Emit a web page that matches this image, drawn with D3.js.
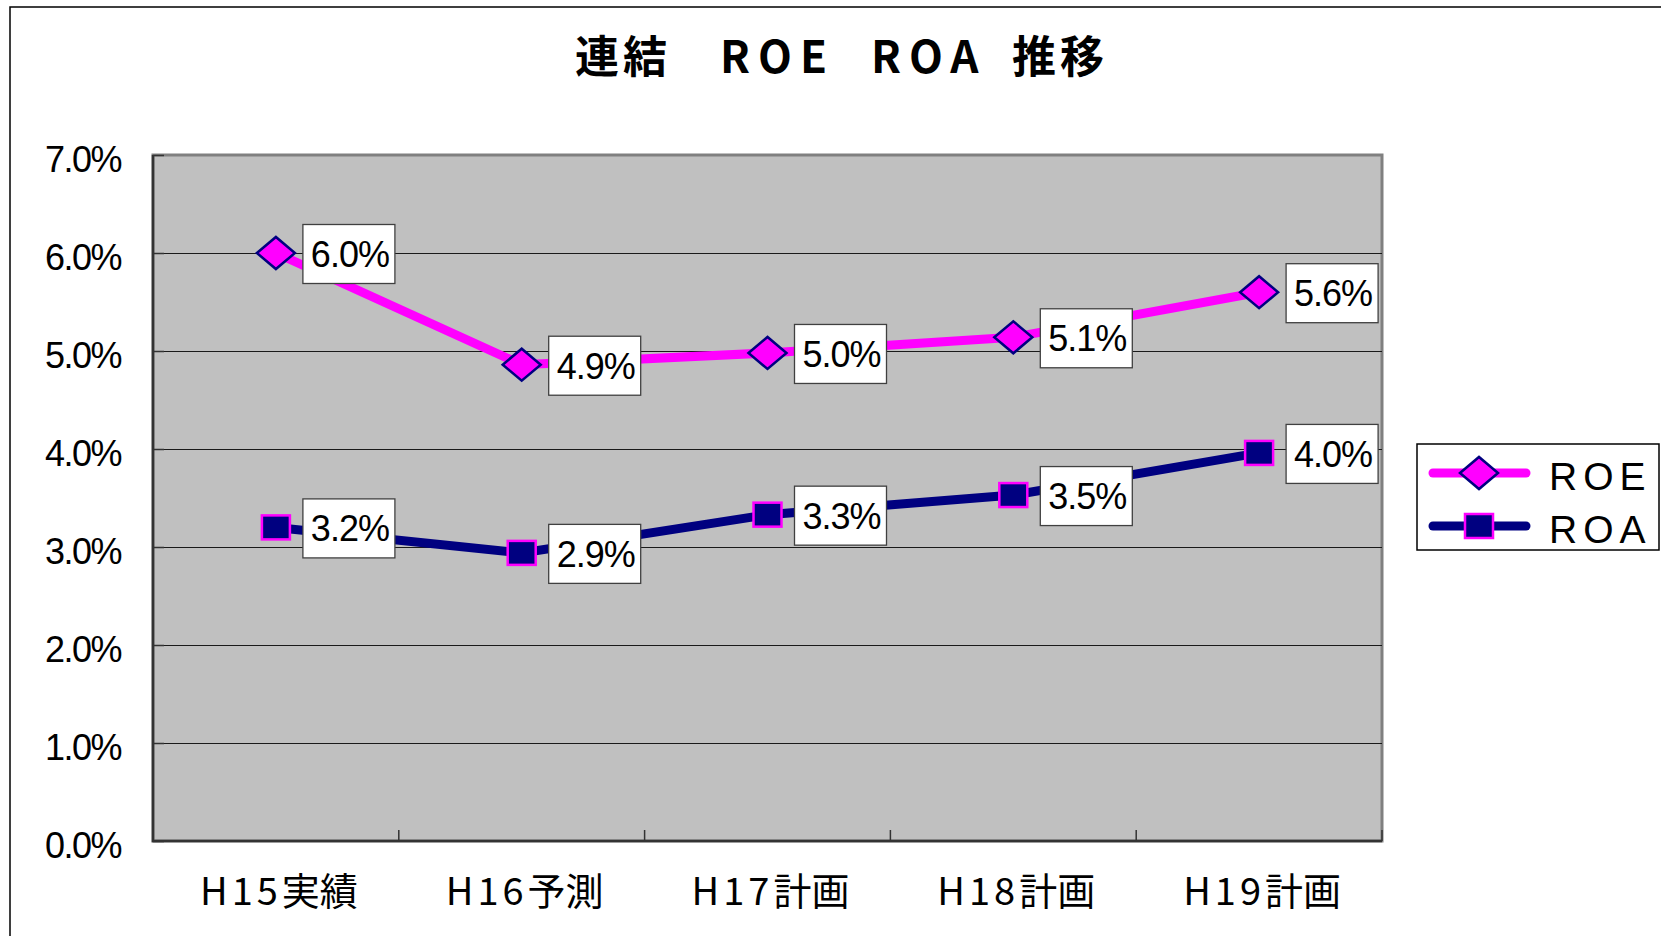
<!DOCTYPE html>
<html>
<head>
<meta charset="utf-8">
<script src="https://cdn.jsdelivr.net/npm/d3@7"></script>
<style>
  body { margin: 0; background: #fff; }
  svg { display: block; }
</style>
</head>
<body>
<div id="chart"></div>
<script>
// data (percent)
var categories = ["H15実績", "H16予測", "H17計画", "H18計画", "H19計画"];
var roeValues = [6.0, 4.86, 4.98, 5.14, 5.6];
var roaValues = [3.2, 2.94, 3.33, 3.53, 3.96];
var seriesNames = ["ROE", "ROA"];
var yTicks = [0, 1, 2, 3, 4, 5, 6, 7];

var W = 1661, H = 936;
var plot = {left: 153, top: 155, right: 1382, bottom: 841};
var plotW = plot.right - plot.left,
    plotH = plot.bottom - plot.top;

var svg = d3.select("#chart").append("svg")
    .attr("width", W)
    .attr("height", H);

// outer chart border (runs off right / bottom)
svg.append("rect")
    .attr("x", 10).attr("y", 7)
    .attr("width", W + 50).attr("height", H + 50)
    .attr("fill", "#fff")
    .attr("stroke", "#000")
    .attr("stroke-width", 1.5);

// title
var title = svg.append("text")
    .attr("y", 73)
    .attr("font-family", "'Noto Sans CJK JP', sans-serif")
    .attr("font-weight", "bold")
    .attr("font-size", 44)
    .attr("fill", "#000");
var titleParts = [["連結", 575, 4], ["ROE", 720, 8], ["ROA", 871, 8], ["推移", 1012, 4]];
titleParts.forEach(function(p) {
    title.append("tspan").attr("x", p[1]).attr("letter-spacing", p[2]).text(p[0]);
});

let g = svg.append("g")
    .attr("transform", "translate(" + plot.left + "," + plot.top + ")");

// scales
let x = d3.scaleBand()
    .domain(categories)
    .range([0, plotW])
    .padding(0);

let y = d3.scaleLinear()
    .domain([0, 7])
    .range([plotH, 0]);

let cx = d => x(d) + x.bandwidth() / 2;

// plot area
g.append("rect")
    .attr("width", plotW)
    .attr("height", plotH)
    .attr("fill", "#C0C0C0")
    .attr("stroke", "#808080")
    .attr("stroke-width", 3);

// gridlines
let grid = g.append("g")
    .attr("class", "grid")
    .call(d3.axisLeft(y).tickValues(yTicks.slice(1, -1)).tickSize(-plotW).tickFormat(""));
grid.select(".domain").remove();
grid.selectAll("line").attr("stroke", "#1a1a1a").attr("stroke-width", 1.2);

// y ticks inside
g.append("g")
    .call(d3.axisRight(y).tickValues(yTicks).tickSize(11).tickFormat(""))
    .call(a => a.select(".domain").remove())
    .selectAll("line").attr("stroke", "#333").attr("stroke-width", 1.5);

// x tick marks at band boundaries (inside)
let bounds = categories.slice(1).map(d => x(d)).concat([plotW]);
g.selectAll(".xtick")
    .data(bounds)
    .enter().append("line")
    .attr("class", "xtick")
    .attr("x1", d => d).attr("x2", d => d)
    .attr("y1", plotH).attr("y2", plotH - 11)
    .attr("stroke", "#333")
    .attr("stroke-width", 1.5);

// axis lines (left + bottom)
g.append("path")
    .attr("d", "M0,0V" + plotH + "H" + plotW)
    .attr("fill", "none")
    .attr("stroke", "#333")
    .attr("stroke-width", 2.5);

// y axis labels
let yAxis = d3.axisLeft(y)
    .tickValues(yTicks)
    .tickSize(0)
    .tickPadding(32)
    .tickFormat(d => d.toFixed(1) + "%");

let yAxisGroup = g.append("g").attr("class", "y-axis").call(yAxis);
yAxisGroup.select(".domain").remove();
yAxisGroup.selectAll("text")
    .attr("dy", 16)
    .attr("font-family", "'Liberation Sans', Arial, sans-serif")
    .attr("font-size", 36)
    .attr("letter-spacing", -1.5)
    .attr("fill", "#000");

// x axis labels
let xAxis = d3.axisBottom(x).tickSize(0).tickFormat("");
let xAxisGroup = g.append("g")
    .attr("transform", "translate(0," + plotH + ")")
    .call(xAxis);
xAxisGroup.select(".domain").remove();
xAxisGroup.selectAll(".tick").each(function(d) {
    let m = d.match(/^([A-Z0-9]+)(.*)$/);
    let t = d3.select(this).append("text")
        .attr("x", 3)
        .attr("y", 64)
        .attr("text-anchor", "middle")
        .attr("font-family", "'Noto Sans CJK JP', sans-serif")
        .attr("font-size", 38)
        .attr("fill", "#000");
    t.append("tspan").attr("letter-spacing", 4).text(m[1]);
    t.append("tspan").text(m[2]);
});

// series
let series = [
    {name: seriesNames[0], values: roeValues, color: "#FF00FF", markerFill: "#FF00FF", markerStroke: "#000080", shape: "diamond"},
    {name: seriesNames[1], values: roaValues, color: "#000080", markerFill: "#000080", markerStroke: "#FF00FF", shape: "square"}
];

let line = d3.line()
    .x((v, i) => cx(categories[i]))
    .y(v => y(v));

function drawMarker(sel, s, px, py) {
    if (s.shape === "diamond") {
        sel.append("path")
            .attr("d", "M" + (px - 19) + "," + py + "L" + px + "," + (py - 16) + "L" + (px + 19) + "," + py + "L" + px + "," + (py + 16) + "Z")
            .attr("fill", s.markerFill)
            .attr("stroke", s.markerStroke)
            .attr("stroke-width", 2.5);
    } else {
        sel.append("rect")
            .attr("x", px - 14).attr("y", py - 12)
            .attr("width", 28).attr("height", 24)
            .attr("fill", s.markerFill)
            .attr("stroke", s.markerStroke)
            .attr("stroke-width", 2.5);
    }
}

series.slice().reverse().forEach(function(s) {
    g.append("path")
        .datum(s.values)
        .attr("d", line)
        .attr("fill", "none")
        .attr("stroke", s.color)
        .attr("stroke-width", 9);
});

series.forEach(function(s) {
    s.values.forEach(function(v, i) {
        drawMarker(g, s, cx(categories[i]), y(v));
    });
});

// data labels
series.forEach(function(s) {
    s.values.forEach(function(v, i) {
        let px = cx(categories[i]), py = y(v);
        let lb = g.append("g").attr("transform", "translate(" + (px + 27) + "," + (py + 1) + ")");
        lb.append("rect")
            .attr("x", 0).attr("y", -29.5)
            .attr("width", 92).attr("height", 59)
            .attr("fill", "#fff")
            .attr("stroke", "#404040")
            .attr("stroke-width", 1.3);
        lb.append("text")
            .attr("x", 47).attr("y", 13)
            .attr("text-anchor", "middle")
            .attr("font-family", "'Liberation Sans', Arial, sans-serif")
            .attr("font-size", 36)
            .attr("letter-spacing", -1)
            .attr("fill", "#000")
            .text(v.toFixed(1) + "%");
    });
});

// legend
let legend = svg.append("g").attr("transform", "translate(1417,444)");
legend.append("rect")
    .attr("width", 242).attr("height", 106)
    .attr("fill", "#fff")
    .attr("stroke", "#000")
    .attr("stroke-width", 1.5);

series.forEach(function(s, i) {
    let ly = 29 + i * 53;
    legend.append("line")
        .attr("x1", 16).attr("x2", 109)
        .attr("y1", ly).attr("y2", ly)
        .attr("stroke", s.color)
        .attr("stroke-width", 9)
        .attr("stroke-linecap", "round");
    drawMarker(legend, s, 62, ly);
    legend.append("text")
        .attr("x", 132).attr("y", ly + 17)
        .attr("font-family", "'Liberation Sans', Arial, sans-serif")
        .attr("font-size", 39)
        .attr("letter-spacing", 6)
        .attr("fill", "#000")
        .text(s.name);
});
</script>
</body>
</html>
